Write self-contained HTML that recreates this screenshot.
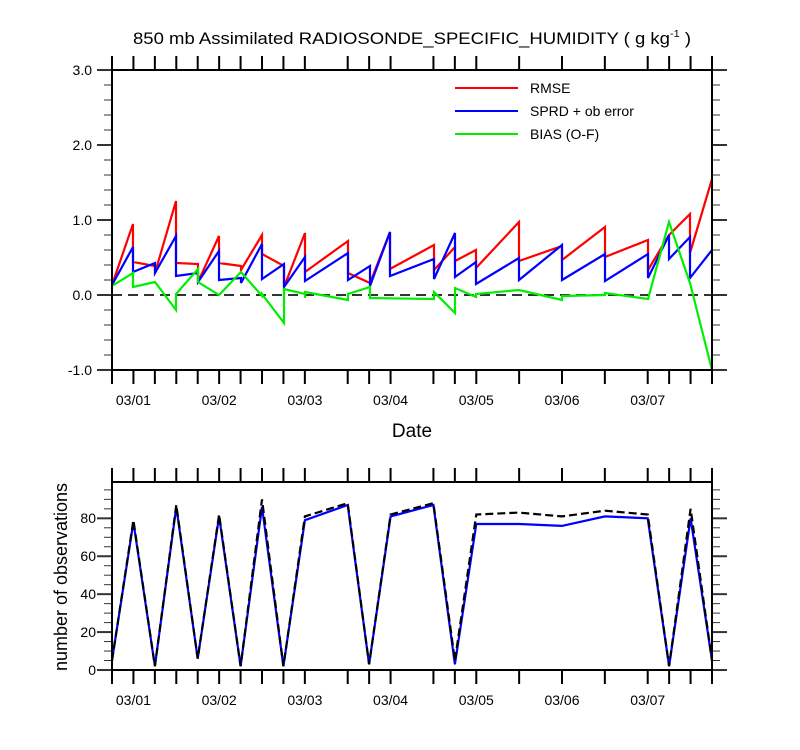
<!DOCTYPE html>
<html><head><meta charset="utf-8"><style>
html,body{margin:0;padding:0;background:#fff}
svg{display:block}
text{font-family:"Liberation Sans",sans-serif;fill:#000}
</style></head><body>
<svg id="s" width="800" height="750" viewBox="0 0 800 750" xmlns="http://www.w3.org/2000/svg">
<text x="412" y="44" font-size="17" text-anchor="middle" textLength="558" lengthAdjust="spacingAndGlyphs">850 mb Assimilated RADIOSONDE_SPECIFIC_HUMIDITY ( g kg<tspan font-size="10" dy="-7">-1</tspan><tspan dy="7"> )</tspan></text>
<text x="412" y="437" font-size="19" text-anchor="middle">Date</text>
<text transform="translate(67,577) rotate(-90)" font-size="18" text-anchor="middle">number of observations</text>
<g font-size="14" text-anchor="end">
<text x="92" y="75">3.0</text><text x="92" y="150">2.0</text><text x="92" y="225">1.0</text><text x="92" y="300">0.0</text><text x="92" y="375">-1.0</text>
<text x="96" y="675">0</text><text x="96" y="637">20</text><text x="96" y="599">40</text><text x="96" y="561">60</text><text x="96" y="523">80</text>
</g>
<g id="g"></g>
<g font-size="14">
<line x1="455" y1="88" x2="518" y2="88" stroke="#f00" stroke-width="2"/><text x="530" y="93">RMSE</text>
<line x1="455" y1="111" x2="518" y2="111" stroke="#00f" stroke-width="2"/><text x="530" y="116">SPRD + ob error</text>
<line x1="455" y1="134" x2="518" y2="134" stroke="#0e0" stroke-width="2"/><text x="530" y="139">BIAS (O-F)</text>
</g>
</svg>
<script>
var g=document.getElementById('g'),h='';
function X(i){return 112+600*i/28}
function L(a,b,c,d,w,col,extra){h+='<line x1="'+a+'" y1="'+b+'" x2="'+c+'" y2="'+d+'" stroke="'+(col||'#000')+'" stroke-width="'+(w||1.5)+'" '+(extra||'')+'/>'}
var tk=[0,1,2,3,4,5,6,7,8,9,11,12,13,15,16,17,19,21,23,25,26,27,28];
var labs={1:'03/01',5:'03/02',9:'03/03',13:'03/04',17:'03/05',21:'03/06',25:'03/07'};
[[70,370],[482,670]].forEach(function(p){
 tk.forEach(function(i){var x=X(i);L(x,p[0]-14,x,p[0],2);L(x,p[1],x,p[1]+14,2);
  if(labs[i])h+='<text x="'+x+'" y="'+(p[1]+35)+'" font-size="14" text-anchor="middle">'+labs[i]+'</text>';});
});
for(var k=0;k<=20;k++){var y=70+15*k,maj=k%5==0,l=maj?15:8;L(112-l,y,112,y,maj?2:1,'#333');L(712,y,712+l,y,maj?2:1,'#333');}
for(var v=0;v<=95;v+=5){var y=670-1.896*v,maj=v%20==0,l=maj?15:8;L(112-l,y,112,y,maj?2:1,'#333');L(712,y,712+l,y,maj?2:1,'#333');}
L(112,295,712,295,2,'#333','stroke-dasharray="10,6"');
function P(pts,col,extra){h+='<polyline fill="none" stroke="'+col+'" stroke-width="2.2" stroke-linejoin="miter" '+(extra||'')+' points="'+pts+'"/>'}
P("112,285 133,224 133,262 155,266 155,273 176,201 176,263 198,264 198,282 219,236 219,263 241,266 241,270 262,235 262,254 284,266 284,287 305,233 305,272 348,241 348,273 370,283 390,232 390,269 434,245 434,270 455,247 455,261 476,250 476,268 519,222 519,261 562,246 562,260 605,227 605,257 648,240 648,270 669,235 690,214 690,253 712,179",'#f00');
P("112,285 133,247 133,272 155,263 155,273 176,236 176,276 198,273 198,282 219,251 219,280 241,278 241,283 262,244 262,279 284,264 284,287 305,257 305,281 348,253 348,280 370,266 370,286 390,232 390,276 434,259 434,279 455,233 455,277 476,262 476,284 519,258 519,280 562,245 562,280 605,254 605,281 648,254 648,278 669,235 669,259 690,237 690,278 712,250",'#00f');
P("112,286 133,273 133,287 155,282 176,310 176,294 198,269 198,282 219,295 241,272 262,296 262,294 284,323 284,289 305,294 305,298 305,292 348,300 348,294 370,287 370,298 434,299 434,292 455,313 455,288 476,297 476,294 519,290 562,300 562,296 605,295 605,293 648,299 669,222 690,283 712,370",'#0e0');
L(112,270,112,310,2,'#00f');
function Y(v){return 670-1.896*v}
var bl=[[0,5],[1,78],[2,2],[3,86],[4,6],[5,81],[6,2],[7,86],[8,2],[9,79],[11,87],[12,3],[13,81],[15,87],[16,3],[17,77],[19,77],[21,76],[23,81],[25,80],[26,2],[27,80],[28,5]];
var bk=[[0,5],[1,79],[2,2],[3,87],[4,6],[5,82],[6,2],[7,90],[8,2],[9,81],[11,88],[12,3],[13,82],[15,88],[16,5],[17,82],[19,83],[21,81],[23,84],[25,82],[26,2],[27,85],[28,5]];
function pp(a){return a.map(function(q){return X(q[0]).toFixed(1)+','+Y(q[1]).toFixed(1)}).join(' ')}
P(pp(bl),'#00f');
P(pp(bk),'#000','stroke-dasharray="8,4"');
h+='<rect x="112" y="70" width="600" height="300" fill="none" stroke="#000" stroke-width="2"/>';
h+='<rect x="112" y="482" width="600" height="188" fill="none" stroke="#000" stroke-width="2"/>';
g.innerHTML=h;
</script>
</body></html>
